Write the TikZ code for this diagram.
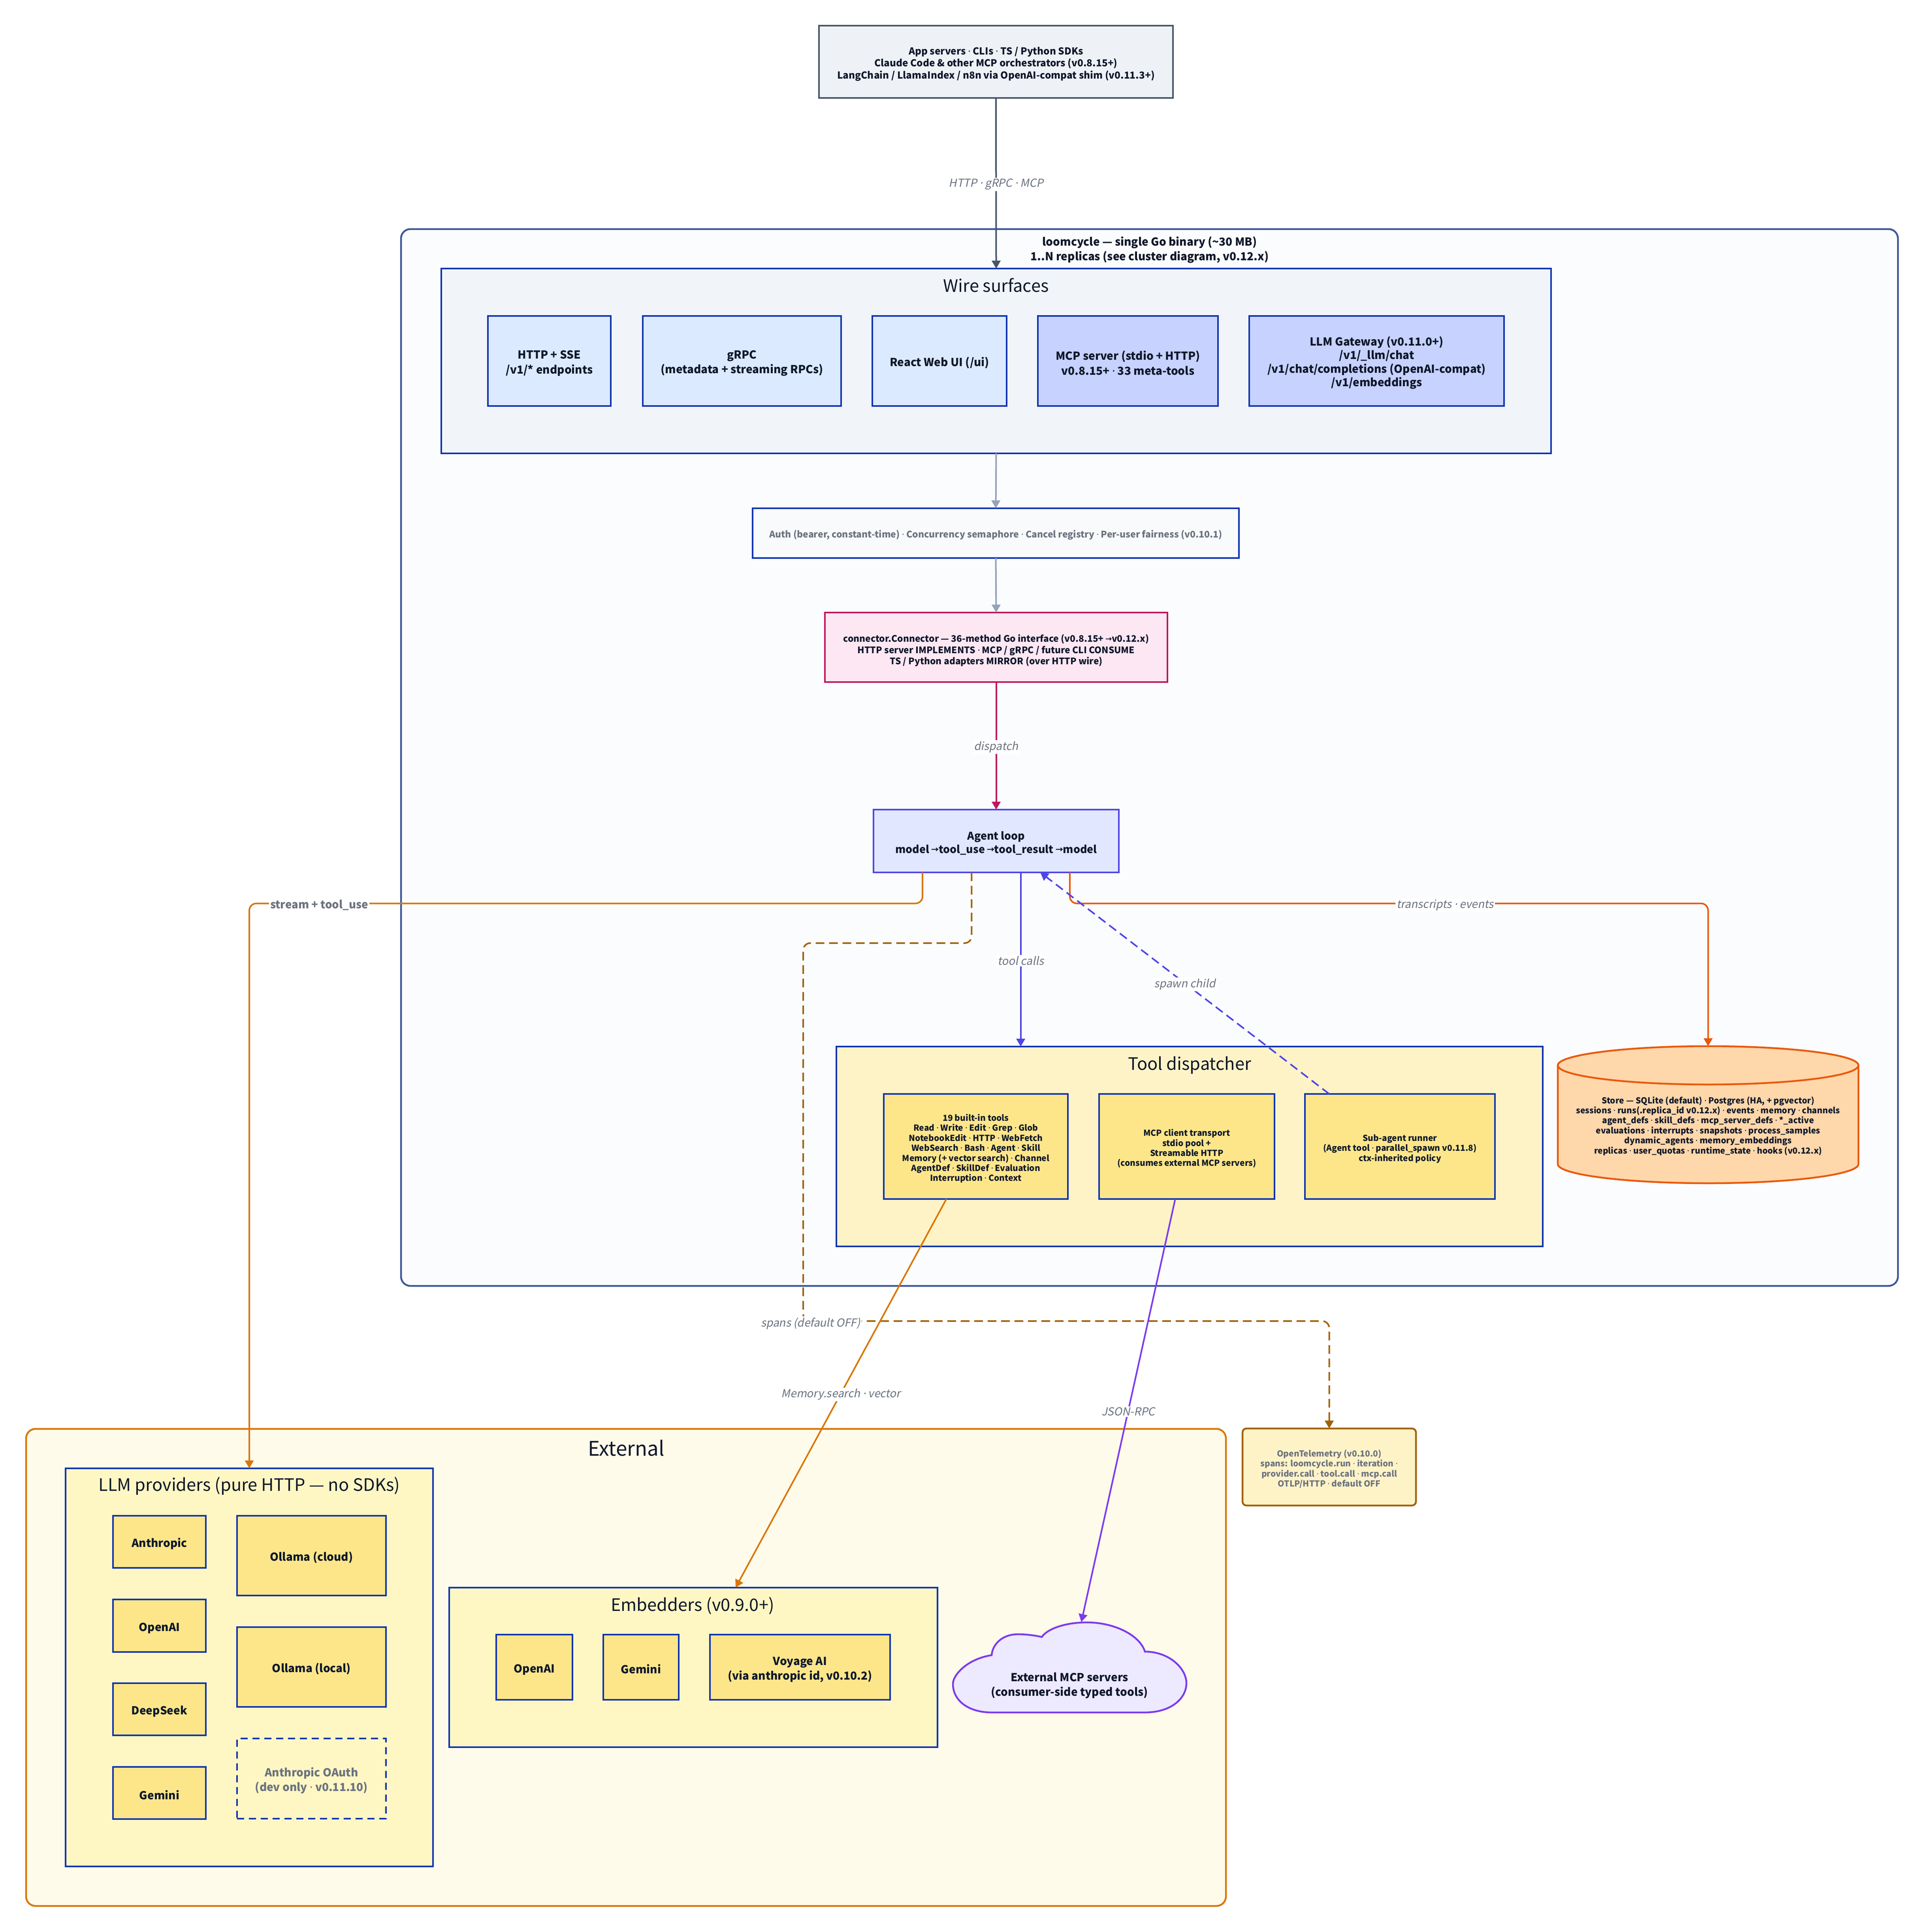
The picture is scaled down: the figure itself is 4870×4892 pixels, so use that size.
\documentclass[tikz,border=0pt]{standalone}
\usepackage{fontspec}
\setmainfont{Noto Sans CJK KR}[AutoFakeSlant=0.2]
\newfontfamily\dotfont{Noto Sans}[AutoFakeSlant=0.2]
\usetikzlibrary{calc,arrows.meta}
\catcode`\·=\active
\def·{{\dotfont\symbol{"00B7}}}
\catcode`\→=\active
\def→{\kern-.03em\raisebox{.06em}{\scalebox{.72}{\symbol{"2192}}}\kern-.03em}
\definecolor{ink}{HTML}{0F172A}
\definecolor{muted}{HTML}{6B7280}
\definecolor{navy}{HTML}{1034B0}
\definecolor{slateS}{HTML}{475569}
\definecolor{greyA}{HTML}{94A3B8}
\definecolor{loomS}{HTML}{3B5998}
\definecolor{pinkS}{HTML}{BE185D}
\definecolor{indigoS}{HTML}{4F46E5}
\definecolor{amberS}{HTML}{D97706}
\definecolor{orangeS}{HTML}{EA580C}
\definecolor{brownS}{HTML}{A16207}
\definecolor{purpleS}{HTML}{7C3AED}
\definecolor{loomF}{HTML}{FBFCFE}
\definecolor{extF}{HTML}{FFFBEB}
\definecolor{wireF}{HTML}{F1F5FA}
\definecolor{toolF}{HTML}{FEF3C7}
\definecolor{provF}{HTML}{FEF7C3}
\definecolor{clientF}{HTML}{EEF2F7}
\definecolor{blueA}{HTML}{DBEAFE}
\definecolor{blueB}{HTML}{C7D2FE}
\definecolor{yellowI}{HTML}{FDE68A}
\definecolor{authF}{HTML}{F8FAFC}
\definecolor{connF}{HTML}{FCE7F3}
\definecolor{agentF}{HTML}{E0E7FF}
\definecolor{storeF}{HTML}{FED7AA}
\definecolor{cloudF}{HTML}{EDE9FE}
\newcommand\fz[2]{\fontsize{#1}{#2}\selectfont}
\def\nudge{6pt}
% \bx{style}{name}{x1}{y1}{x2}{y2}{text}
\newcommand\bx[7]{\node[#1,minimum width={(#5-#3)*0.5pt},minimum height={(#6-#4)*0.5pt}] (#2) at ({(#3+#5)/2},{(#4+#6)/2}) {\rule{0pt}{\dimexpr .75em+\nudge\relax}#7};}
\tikzset{
  base/.style={draw,rectangle,inner sep=0pt,outer sep=0pt,align=center,text=ink,line width=2.25pt,draw=navy},
  cluster/.style={base,fill=#1},
  item/.style={base,fill=#1,font=\bfseries\fz{14}{18.8}},
  small/.style={base,fill=#1,font=\bfseries\fz{10.5}{12.7}},
  edge/.style={line width=2pt,draw=#1,-{Triangle[length=10pt,width=11pt]}},
  dashy/.style={dash pattern=on 11pt off 6pt},
  lbl/.style={fill=white,inner sep=1.5pt,text=muted,yshift=-1.5pt,font=\itshape\fz{14}{17}},
  title/.style={text=ink,inner sep=0pt,font=\fz{21.7}{26}},
}
\begin{document}
\begin{tikzpicture}[x=0.5pt,y=-0.5pt]
\useasboundingbox (0,0) rectangle (4870,4892);
\fill[white] (0,0) rectangle (4870,4892);
% clusters
\bx{base,rounded corners=12pt,draw=loomS,fill=loomF}{loom}{1015}{580}{4804}{3256}{}
\bx{base,rounded corners=12pt,draw=amberS,fill=extF}{external}{66}{3618}{3103}{4826}{}
\bx{cluster=wireF}{wire}{1117}{680}{3926}{1148}{}
\bx{cluster=toolF}{tooldisp}{2117}{2650}{3905}{3156}{}
\bx{cluster=provF}{providers}{166}{3718}{1096}{4726}{}
\bx{cluster=provF}{embedders}{1137}{4020}{2373}{4424}{}
% cluster titles
\node[text=ink,inner sep=0pt,align=center,font=\bfseries\fz{14}{18.5}] (loomT) at (2910,633) {loomcycle — single Go binary (\textasciitilde30 MB)\\1..N replicas (see cluster diagram, v0.12.x)};
\node[title] (wireT) at (2521,722) {Wire surfaces};
\node[title] (toolT) at (3011,2697) {Tool dispatcher};
\node[title,font=\fz{25.5}{30}] (extT) at (1585,3666) {External};
\node[title] (provT) at (631,3763) {LLM providers (pure HTTP — no SDKs)};
\node[title] (embT) at (1753,4066) {Embedders (v0.9.0+)};
% nodes
\bx{base,draw=slateS,fill=clientF,font=\bfseries\fz{12.2}{15.3}}{client}{2073}{65}{2969}{248}{App servers · CLIs · TS / Python SDKs\\Claude Code \& other MCP orchestrators (v0.8.15+)\\LangChain / LlamaIndex / n8n via OpenAI-compat shim (v0.11.3+)}
\bx{item=blueA}{http}{1235}{800}{1546}{1028}{HTTP + SSE\\/v1/* endpoints}
\bx{item=blueA}{grpc}{1627}{800}{2129}{1028}{gRPC\\(metadata + streaming RPCs)}
\bx{item=blueA}{react}{2208}{800}{2548}{1028}{React Web UI (/ui)}
\bx{item=blueB}{mcpsrv}{2627}{800}{3083}{1028}{MCP server (stdio + HTTP)\\v0.8.15+ · 33 meta-tools}
\bx{item=blueB,font=\bfseries\fz{14}{17.25}}{gateway}{3162}{800}{3807}{1028}{LLM Gateway (v0.11.0+)\\/v1/\_llm/chat\\/v1/chat/completions (OpenAI-compat)\\/v1/embeddings}
\bx{base,fill=authF,text=muted,font=\bfseries\fz{11.5}{14}}{auth}{1905}{1287}{3136}{1413}{Auth (bearer, constant-time) · Concurrency semaphore · Cancel registry · Per-user fairness (v0.10.1)}
\bx{base,draw=pinkS,fill=connF,font=\bfseries\fz{11.4}{14.2}\def\nudge{9pt}}{conn}{2088}{1551}{2955}{1727}{connector.Connector — 36-method Go interface (v0.8.15+ → v0.12.x)\\HTTP server IMPLEMENTS · MCP / gRPC / future CLI CONSUME\\TS / Python adapters MIRROR (over HTTP wire)}
\bx{base,draw=indigoS,fill=agentF,font=\bfseries\fz{13.4}{17}}{agent}{2211}{2050}{2832}{2209}{Agent loop\\model → tool\_use → tool\_result → model}
\bx{small=yellowI}{tools}{2237}{2770}{2703}{3036}{19 built-in tools\\Read · Write · Edit · Grep · Glob\\NotebookEdit · HTTP · WebFetch\\WebSearch · Bash · Agent · Skill\\Memory (+ vector search) · Channel\\AgentDef · SkillDef · Evaluation\\Interruption · Context}
\bx{small=yellowI}{mcpcli}{2782}{2770}{3226}{3036}{MCP client transport\\stdio pool +\\Streamable HTTP\\(consumes external MCP servers)}
\bx{small=yellowI}{subag}{3303}{2770}{3784}{3036}{Sub-agent runner\\(Agent tool · parallel\_spawn v0.11.8)\\ctx-inherited policy}
% store cylinder
\draw[orangeS,line width=2.25pt,fill=storeF] (3943,2697.5) -- (3943,2947.5) arc[start angle=180,end angle=360,x radius=380.5,y radius=-48.5] -- (4704,2697.5) arc[start angle=0,end angle=180,x radius=380.5,y radius=-48.5] -- cycle;
\draw[orangeS,line width=2.25pt] (3943,2697.5) arc[start angle=180,end angle=360,x radius=380.5,y radius=-48.5];
\node[inner sep=0pt,align=center,text=ink,font=\bfseries\fz{10.5}{12.7}] (store) at (4323.5,2851) {Store — SQLite (default) · Postgres (HA, + pgvector)\\sessions · runs(.replica\_id v0.12.x) · events · memory · channels\\agent\_defs · skill\_defs · mcp\_server\_defs · *\_active\\evaluations · interrupts · snapshots · process\_samples\\dynamic\_agents · memory\_embeddings\\replicas · user\_quotas · runtime\_state · hooks (v0.12.x)};
\coordinate (storeTop) at (4323.5,2649);
% telemetry
\bx{base,rounded corners=5pt,draw=brownS,fill=toolF,text=muted,font=\bfseries\fz{10.5}{12.8}}{otel}{3145}{3617}{3584}{3812}{OpenTelemetry (v0.10.0)\\spans: loomcycle.run · iteration ·\\provider.call · tool.call · mcp.call\\OTLP/HTTP · default OFF}
% providers
\bx{item=yellowI}{anth}{286}{3838}{521}{3970}{Anthropic}
\bx{item=yellowI}{oai}{286}{4050}{521}{4183}{OpenAI}
\bx{item=yellowI}{deep}{286}{4262}{521}{4394}{DeepSeek}
\bx{item=yellowI}{gem}{286}{4474}{521}{4606}{Gemini}
\bx{item=yellowI}{ollc}{600}{3838}{977}{4040}{Ollama (cloud)}
\bx{item=yellowI}{olll}{600}{4120}{977}{4322}{Ollama (local)}
\bx{item=provF,dash pattern=on 9pt off 6pt,text=muted}{oauth}{600}{4402}{977}{4605}{Anthropic OAuth\\(dev only · v0.11.10)}
\bx{item=yellowI}{eoai}{1256}{4139}{1449}{4304}{OpenAI}
\bx{item=yellowI}{egem}{1527}{4139}{1718}{4304}{Gemini}
\bx{item=yellowI}{voy}{1797}{4139}{2253}{4304}{Voyage AI\\(via anthropic id, v0.10.2)}
% cloud
\draw[purpleS,line width=2.25pt,fill=cloudF] (2510,4336) -- (2898,4336)
  .. controls (2965,4336) and (3003,4300) .. (3003,4262)
  .. controls (3003,4225) and (2960,4182) .. (2898,4182)
  .. controls (2885,4140) and (2820,4108) .. (2751,4108)
  .. controls (2695,4108) and (2650,4125) .. (2637,4145)
  .. controls (2625,4142) and (2600,4138) .. (2577,4138)
  .. controls (2535,4138) and (2512,4165) .. (2510,4191)
  .. controls (2450,4200) and (2412,4240) .. (2412,4264)
  .. controls (2412,4305) and (2450,4336) .. (2510,4336) -- cycle;
\node[inner sep=0pt,align=center,text=ink,font=\bfseries\fz{14}{18.7}] (cloudT) at (2707,4268) {External MCP servers\\(consumer-side typed tools)};
\coordinate (cloudTop) at (2737,4107);
% connectors
\coordinate (busY) at (0,2287.5);
\coordinate (dropY) at (0,2388);
\coordinate (dropX) at (2033,0);
\coordinate (spanY) at (0,3345);
\coordinate (a2) at ($(agent.south west)!0.2!(agent.south east)$);
\coordinate (a4) at ($(agent.south west)!0.4!(agent.south east)$);
\coordinate (a6) at ($(agent.south west)!0.6!(agent.south east)$);
\coordinate (a8) at ($(agent.south west)!0.8!(agent.south east)$);
\coordinate (aS) at ($(agent.south west)!0.68!(agent.south east)$);
\coordinate (subN) at ($(subag.north west)!0.128!(subag.north east)$);
\coordinate (toolsS) at ($(tools.south west)!0.34!(tools.south east)$);
\coordinate (mcpS) at ($(mcpcli.south west)!0.434!(mcpcli.south east)$);
\coordinate (embN) at ($(embedders.north west)!0.5865!(embedders.north east)$);
\draw[edge=slateS] (client.south) -- node[lbl]{HTTP · gRPC · MCP} (wire.north);
\draw[edge=greyA] (wire.south) -- (auth.north);
\draw[edge=greyA] (auth.south) -- (conn.north);
\draw[edge=pinkS] (conn.south) -- node[lbl]{dispatch} (agent.north);
\draw[edge=indigoS] (a6) -- node[lbl]{tool calls} (a6 |- tooldisp.north);
\draw[edge=amberS,rounded corners=9pt] (a2) -- (a2 |- busY) -- (providers.north |- busY) -- (providers.north);
\draw[edge=orangeS,rounded corners=9pt] (a8) -- (a8 |- busY) -- (storeTop |- busY) -- (storeTop);
\draw[edge=brownS,dashy,rounded corners=9pt] (a4) -- (a4 |- dropY) -- (dropX |- dropY) -- (dropX |- spanY) -- (otel.north |- spanY) -- (otel.north);
\draw[edge=indigoS,dashy] (subN) -- node[lbl]{spawn child} (aS);
\draw[edge=amberS] (toolsS) -- node[lbl]{Memory.search · vector} (embN);
\draw[edge=purpleS] (mcpS) -- node[lbl]{JSON-RPC} (cloudTop);
\node[lbl,font=\bfseries\fz{13.8}{16}] (streamL) at (808,2289) {stream + tool\_use};
\node[lbl] (transL) at (3658,2289) {transcripts · events};
\node[lbl] (spansL) at (2052,3348) {spans (default OFF)};
\end{tikzpicture}
\end{document}
